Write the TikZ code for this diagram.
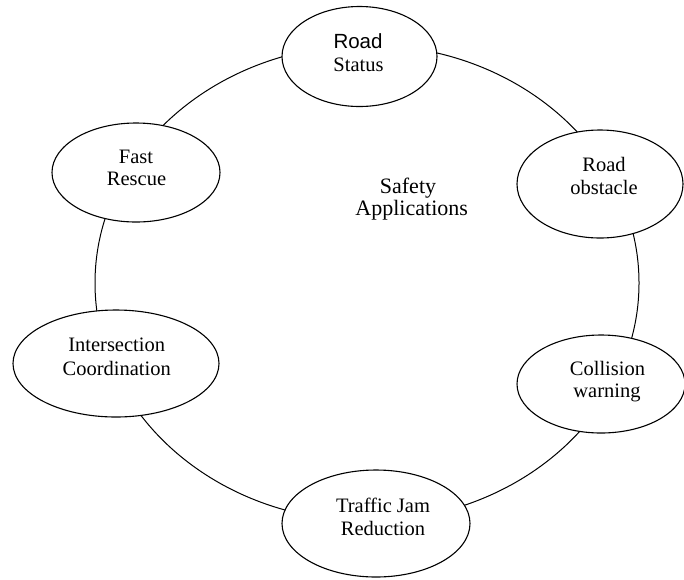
\documentclass[tikz,border=0pt]{standalone}
\usepackage{fontspec}
\setmainfont{Liberation Serif}
\newfontfamily\arialfont{Liberation Sans}
\usetikzlibrary{shapes.geometric}
\begin{document}
\begin{tikzpicture}[x=1pt,y=-1pt,
  oval/.style={ellipse,draw,line width=1.1pt,fill=white,inner sep=0pt},
  ring/.style={ellipse,draw,line width=1pt,inner sep=0pt},
  lbl/.style={anchor=base,inner sep=0pt,font=\fontsize{20.5}{23}\selectfont},
  big/.style={anchor=base,inner sep=0pt,font=\fontsize{22}{25}\selectfont}]
\useasboundingbox (0,0) rectangle (684,579);
\node[ring,minimum width=544pt,minimum height=476pt] (ringnode) at (367,283) {};
\node[oval,minimum width=155pt,minimum height=100pt] (rs) at (359.5,56.5) {};
\node[oval,minimum width=166pt,minimum height=108pt] (ro) at (600,184) {};
\node[oval,minimum width=168pt,minimum height=98pt] (cw) at (601,384) {};
\node[oval,minimum width=188pt,minimum height=107pt] (tj) at (376,523.5) {};
\node[oval,minimum width=206pt,minimum height=107pt] (ic) at (116,363.5) {};
\node[oval,minimum width=168pt,minimum height=99pt] (fr) at (136,172.5) {};
\node[lbl,font=\arialfont\fontsize{20.5}{23}\selectfont] (rs1) at (358,48.3) {Road};
\node[lbl] (rs2) at (358.5,71.5) {Status};
\node[lbl] (ro1) at (604,171) {Road};
\node[lbl] (ro2) at (604,194) {obstacle};
\node[lbl] (cw1) at (607.5,375) {Collision};
\node[lbl] (cw2) at (607,397) {warning};
\node[lbl] (tj1) at (383,512.7) {Traffic Jam};
\node[lbl] (tj2) at (383,535) {Reduction};
\node[lbl] (ic1) at (116.7,351.7) {Intersection};
\node[lbl] (ic2) at (116.7,375) {Coordination};
\node[lbl] (fr1) at (136,163) {Fast};
\node[lbl] (fr2) at (136.5,185.7) {Rescue};
\node[big] (sa1) at (408,193) {Safety};
\node[big] (sa2) at (411.7,215) {Applications};
\end{tikzpicture}
\end{document}
